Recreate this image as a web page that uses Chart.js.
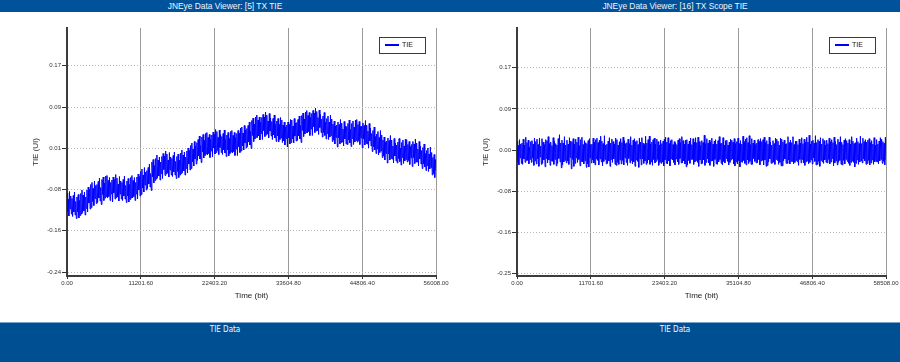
<!DOCTYPE html>
<html>
<head>
<meta charset="utf-8">
<script src="https://cdn.jsdelivr.net/npm/chart.js"></script>
<style>
html,body{margin:0;padding:0;background:#fff;width:900px;height:362px;overflow:hidden;font-family:"Liberation Sans",Arial,sans-serif}
.bar{position:absolute;left:0;width:900px;background:#00529b}
#top{top:0;height:12px}
#bottom{top:322px;height:40px;background:#004f93;border-top:1px solid #7ea3cb;box-sizing:border-box}
.t{position:absolute;width:450px;text-align:center;color:#f2f6fa;white-space:nowrap}
#top .t{font-size:8.4px;line-height:12px;top:0}
#bottom .t{font-family:"Liberation Sans Narrow","DejaVu Sans Condensed",sans-serif;font-size:8px;top:2px;line-height:10px}
canvas{position:absolute;top:12px}
</style>
</head>
<body>
<div id="top" class="bar">
  <div class="t" style="left:0">JNEye Data Viewer: [5] TX TIE</div>
  <div class="t" style="left:450px">JNEye Data Viewer: [16] TX Scope TIE</div>
</div>
<canvas id="c1" width="450" height="310" style="left:0"></canvas>
<canvas id="c2" width="450" height="310" style="left:450px"></canvas>
<div id="bottom" class="bar">
  <div class="t" style="left:0">TIE Data</div>
  <div class="t" style="left:450px">TIE Data</div>
</div>
<script>
// ---------- data ----------
const seriesLabel = 'TIE';
const xAxisTitle = 'Time (bit)';
const yAxisTitle = 'TIE (UI)';

const leftTotalBits = 56008;
const leftXTickValues = [0, 11201.6, 22403.2, 33604.8, 44806.4, 56008];
const leftXTickLabels = ['0.00', '11201.60', '22403.20', '33604.80', '44806.40', '56008.00'];
const leftYRange = [-0.248, 0.248];
const leftYTickValues = [-0.24, -0.1575, -0.075, 0.0075, 0.09, 0.1725];
const leftYTickLabels = ['-0.24', '-0.16', '-0.08', '0.01', '0.09', '0.17'];

const rightTotalBits = 58508;
const rightXTickValues = [0, 11701.6, 23403.2, 35104.8, 46806.4, 58508];
const rightXTickLabels = ['0.00', '11701.60', '23403.20', '35104.80', '46806.40', '58508.00'];
const rightYRange = [-0.255, 0.247];
const rightYTickValues = [-0.25, -0.1667, -0.0833, 0, 0.0833, 0.1667];
const rightYTickLabels = ['-0.25', '-0.16', '-0.08', '0.00', '0.09', '0.17'];

const leftTieValues = [
-0.082,-0.120,-0.094,-0.128,-0.079,-0.114,-0.088,-0.124,
-0.093,-0.129,-0.087,-0.120,-0.080,-0.126,-0.099,-0.133,
-0.090,-0.120,-0.085,-0.132,-0.097,-0.127,-0.083,-0.124,
-0.076,-0.121,-0.086,-0.118,-0.080,-0.126,-0.090,-0.113,
-0.076,-0.120,-0.070,-0.102,-0.075,-0.114,-0.065,-0.111,
-0.061,-0.099,-0.073,-0.107,-0.058,-0.093,-0.067,-0.103,
-0.065,-0.101,-0.059,-0.092,-0.052,-0.098,-0.071,-0.105,
-0.055,-0.085,-0.050,-0.097,-0.062,-0.092,-0.048,-0.089,
-0.047,-0.092,-0.057,-0.089,-0.051,-0.097,-0.061,-0.084,
-0.056,-0.100,-0.050,-0.082,-0.055,-0.094,-0.045,-0.091,
-0.052,-0.090,-0.064,-0.098,-0.049,-0.084,-0.058,-0.094,
-0.061,-0.097,-0.055,-0.088,-0.048,-0.094,-0.067,-0.101,
-0.058,-0.088,-0.053,-0.100,-0.065,-0.095,-0.051,-0.092,
-0.047,-0.092,-0.057,-0.089,-0.051,-0.097,-0.061,-0.084,
-0.050,-0.094,-0.044,-0.076,-0.049,-0.088,-0.039,-0.085,
-0.034,-0.072,-0.046,-0.080,-0.031,-0.066,-0.040,-0.076,
-0.037,-0.073,-0.031,-0.064,-0.024,-0.070,-0.043,-0.077,
-0.020,-0.050,-0.015,-0.062,-0.027,-0.057,-0.013,-0.054,
-0.006,-0.051,-0.016,-0.048,-0.010,-0.056,-0.020,-0.043,
-0.009,-0.053,-0.003,-0.035,-0.008,-0.047,0.002,-0.044,
-0.004,-0.042,-0.016,-0.050,-0.001,-0.036,-0.010,-0.046,
-0.013,-0.049,-0.007,-0.040,0.000,-0.046,-0.019,-0.053,
-0.009,-0.039,-0.004,-0.051,-0.016,-0.046,-0.002,-0.043,
0.004,-0.041,-0.006,-0.038,0.000,-0.046,-0.010,-0.033,
0.002,-0.042,0.008,-0.024,0.003,-0.036,0.013,-0.033,
0.018,-0.020,0.006,-0.028,0.021,-0.014,0.012,-0.024,
0.019,-0.017,0.025,-0.008,0.032,-0.014,0.013,-0.021,
0.030,0.000,0.035,-0.012,0.023,-0.007,0.037,-0.004,
0.039,-0.006,0.029,-0.003,0.035,-0.011,0.025,0.002,
0.034,-0.010,0.040,0.008,0.035,-0.004,0.045,-0.001,
0.041,0.003,0.029,-0.005,0.044,0.009,0.035,-0.001,
0.031,-0.005,0.037,0.004,0.044,-0.002,0.025,-0.009,
0.034,0.004,0.039,-0.008,0.027,-0.003,0.041,0.000,
0.043,-0.002,0.033,0.001,0.039,-0.007,0.029,0.006,
0.037,-0.007,0.043,0.011,0.038,-0.001,0.048,0.002,
0.050,0.012,0.038,0.004,0.053,0.018,0.044,0.008,
0.047,0.011,0.053,0.020,0.060,0.014,0.041,0.007,
0.063,0.033,0.068,0.021,0.056,0.026,0.070,0.029,
0.074,0.029,0.064,0.032,0.070,0.024,0.060,0.037,
0.069,0.025,0.075,0.043,0.070,0.031,0.080,0.034,
0.074,0.036,0.062,0.028,0.077,0.042,0.068,0.032,
0.061,0.025,0.067,0.034,0.074,0.028,0.055,0.021,
0.062,0.032,0.067,0.020,0.055,0.025,0.069,0.028,
0.064,0.019,0.054,0.022,0.060,0.014,0.050,0.027,
0.054,0.010,0.060,0.028,0.055,0.016,0.065,0.019,
0.064,0.026,0.052,0.018,0.067,0.032,0.058,0.022,
0.059,0.023,0.065,0.032,0.072,0.026,0.053,0.019,
0.073,0.043,0.078,0.031,0.066,0.036,0.080,0.039,
0.083,0.038,0.073,0.041,0.079,0.033,0.069,0.046,
0.077,0.033,0.083,0.051,0.078,0.039,0.088,0.042,
0.081,0.043,0.069,0.035,0.084,0.049,0.075,0.039,
0.066,0.030,0.072,0.039,0.079,0.033,0.060,0.026,
0.067,0.037,0.072,0.025,0.060,0.030,0.074,0.033,
0.066,0.021,0.056,0.024,0.062,0.016,0.052,0.029,
0.054,0.010,0.060,0.028,0.055,0.016,0.065,0.019,
0.058,0.020,0.046,0.012,0.061,0.026,0.052,0.016,
0.051,0.015,0.057,0.024,0.064,0.018,0.045,0.011,
0.057,0.027,0.062,0.015,0.050,0.020,0.064,0.023,
0.065,0.020,0.055,0.023,0.061,0.015,0.051,0.028,
0.052,0.008,0.058,0.026,0.053,0.014,0.063,0.017,
0.054,0.016,0.042,0.008,0.057,0.022,0.048,0.012,
0.037,0.001,0.043,0.010,0.050,0.004,0.031,-0.003,
0.036,0.006,0.041,-0.006,0.029,-0.001,0.043,0.002,
0.034,-0.011,0.024,-0.008,0.030,-0.016,0.020,-0.003,
0.022,-0.022,0.028,-0.004,0.023,-0.016,0.033,-0.013,
0.024,-0.014,0.012,-0.022,0.027,-0.008,0.018,-0.018,
0.014,-0.022,0.020,-0.013,0.027,-0.019,0.008,-0.026,
0.019,-0.011,0.024,-0.023,0.012,-0.018,0.026,-0.015,
0.025,-0.020,0.015,-0.017,0.021,-0.025,0.011,-0.012,
0.015,-0.029,0.021,-0.011,0.016,-0.023,0.026,-0.020,
0.018,-0.020,0.006,-0.028,0.021,-0.014,0.012,-0.024,
0.003,-0.033,0.009,-0.024,0.016,-0.030,-0.003,-0.037,
0.003,-0.027,0.008,-0.039,-0.004,-0.034,0.010,-0.031,
-0.001,-0.046,-0.011,-0.043,-0.005,-0.051,-0.015,-0.038
];

const rightTieValues = [
0.018,-0.024,0.009,-0.030,0.021,-0.016,0.012,-0.027,
0.014,-0.029,0.022,-0.018,0.010,-0.025,0.026,-0.021,
0.015,-0.021,0.020,-0.028,0.006,-0.019,0.017,-0.025,
0.019,-0.016,0.012,-0.031,0.024,-0.022,0.017,-0.028,
0.022,-0.018,0.011,-0.033,0.024,-0.014,0.008,-0.029,
0.023,-0.027,0.016,-0.020,0.011,-0.034,0.021,-0.017,
0.019,-0.026,0.027,-0.020,0.013,-0.031,0.016,-0.022,
0.009,-0.023,0.025,-0.029,0.018,-0.019,0.013,-0.032,
0.010,-0.027,0.023,-0.017,0.031,-0.024,0.014,-0.036,
0.020,-0.030,0.014,-0.024,0.027,-0.021,0.010,-0.026,
0.020,-0.022,0.012,-0.029,0.025,-0.015,0.018,-0.038,
0.017,-0.019,0.023,-0.033,0.012,-0.027,0.022,-0.016,
0.016,-0.025,0.026,-0.019,0.009,-0.032,0.021,-0.023,
0.026,-0.024,0.011,-0.028,0.019,-0.022,0.015,-0.035,
0.013,-0.028,0.019,-0.034,0.023,-0.016,0.011,-0.026,
0.012,-0.020,0.024,-0.026,0.016,-0.030,0.021,-0.018,
0.024,-0.021,0.015,-0.030,0.020,-0.018,0.028,-0.024,
0.018,-0.032,0.013,-0.023,0.029,-0.019,0.010,-0.028,
0.012,-0.027,0.018,-0.022,0.025,-0.033,0.014,-0.019,
0.022,-0.025,0.017,-0.018,0.012,-0.029,0.024,-0.031,
0.021,-0.025,0.010,-0.029,0.017,-0.020,0.023,-0.028,
0.015,-0.021,0.026,-0.030,0.019,-0.016,0.013,-0.025,
0.015,-0.031,0.022,-0.017,0.013,-0.026,0.027,-0.021,
0.010,-0.028,0.020,-0.024,0.023,-0.033,0.017,-0.020,
0.019,-0.023,0.011,-0.035,0.024,-0.018,0.016,-0.030,
0.025,-0.018,0.014,-0.027,0.011,-0.022,0.028,-0.029,
0.014,-0.026,0.021,-0.020,0.028,-0.029,0.012,-0.024,
0.016,-0.031,0.021,-0.019,0.024,-0.026,0.012,-0.023,
0.022,-0.019,0.017,-0.031,0.010,-0.025,0.020,-0.027,
0.013,-0.024,0.018,-0.032,0.022,-0.020,0.026,-0.027,
0.016,-0.028,0.025,-0.022,0.013,-0.032,0.019,-0.018,
0.021,-0.020,0.011,-0.025,0.017,-0.030,0.014,-0.018,
0.011,-0.024,0.020,-0.029,0.023,-0.017,0.015,-0.026,
0.027,-0.026,0.019,-0.022,0.012,-0.028,0.020,-0.034,
0.021,-0.030,0.012,-0.021,0.018,-0.027,0.024,-0.019,
0.011,-0.019,0.023,-0.029,0.016,-0.024,0.025,-0.021,
0.015,-0.025,0.026,-0.033,0.017,-0.020,0.009,-0.028,
0.019,-0.027,0.015,-0.020,0.030,-0.031,0.013,-0.025,
0.023,-0.018,0.014,-0.026,0.020,-0.031,0.016,-0.022,
0.024,-0.022,0.012,-0.033,0.018,-0.019,0.021,-0.028,
0.012,-0.029,0.019,-0.024,0.027,-0.019,0.013,-0.027,
0.014,-0.030,0.025,-0.023,0.010,-0.026,0.019,-0.017,
0.020,-0.023,0.010,-0.030,0.016,-0.025,0.022,-0.020,
0.020,-0.018,0.016,-0.028,0.023,-0.032,0.013,-0.024,
0.017,-0.028,0.024,-0.021,0.013,-0.034,0.019,-0.024,
0.012,-0.025,0.028,-0.021,0.017,-0.027,0.022,-0.030,
0.025,-0.020,0.015,-0.027,0.029,-0.023,0.011,-0.029,
0.023,-0.029,0.014,-0.017,0.020,-0.023,0.011,-0.026,
0.014,-0.026,0.021,-0.019,0.017,-0.030,0.023,-0.022,
0.017,-0.021,0.021,-0.030,0.026,-0.020,0.015,-0.033,
0.019,-0.031,0.012,-0.024,0.026,-0.018,0.016,-0.027,
0.010,-0.026,0.019,-0.024,0.013,-0.029,0.024,-0.019,
0.022,-0.021,0.018,-0.029,0.010,-0.025,0.024,-0.032,
0.022,-0.032,0.016,-0.022,0.020,-0.018,0.012,-0.027,
0.013,-0.027,0.027,-0.020,0.015,-0.028,0.020,-0.023,
0.015,-0.023,0.027,-0.028,0.011,-0.025,0.018,-0.021,
0.018,-0.024,0.011,-0.031,0.022,-0.019,0.014,-0.026,
0.025,-0.019,0.013,-0.026,0.022,-0.031,0.016,-0.024,
0.026,-0.022,0.016,-0.028,0.030,-0.025,0.012,-0.020,
0.018,-0.028,0.020,-0.016,0.014,-0.023,0.029,-0.030,
0.015,-0.029,0.021,-0.023,0.018,-0.033,0.025,-0.021,
0.012,-0.024,0.023,-0.027,0.019,-0.020,0.010,-0.025,
0.020,-0.026,0.013,-0.019,0.024,-0.028,0.017,-0.024,
0.021,-0.017,0.015,-0.032,0.026,-0.026,0.017,-0.022,
0.011,-0.030,0.022,-0.025,0.016,-0.021,0.027,-0.029,
0.016,-0.030,0.011,-0.021,0.020,-0.028,0.023,-0.019,
0.019,-0.023,0.014,-0.027,0.021,-0.031,0.012,-0.025,
0.027,-0.022,0.018,-0.025,0.013,-0.034,0.015,-0.027,
0.024,-0.020,0.017,-0.029,0.013,-0.024,0.028,-0.022,
0.013,-0.026,0.024,-0.018,0.017,-0.022,0.021,-0.029,
0.016,-0.027,0.020,-0.021,0.023,-0.030,0.015,-0.026,
0.019,-0.020,0.012,-0.029,0.025,-0.024,0.010,-0.023,
0.021,-0.024,0.012,-0.028,0.018,-0.022,0.025,-0.019,
0.022,-0.027,0.017,-0.023,0.014,-0.030,0.026,-0.020
];

// ---------- chart ----------
const FONT = '"Liberation Sans", Arial, sans-serif';

const legendBox = {
  id: 'legendBox',
  afterDatasetsDraw(chart) {
    const { ctx, chartArea: a } = chart;
    const ds = chart.data.datasets[0];
    const w = 47, h = 17;
    const x = Math.round(a.right - 10 - w), y = Math.round(a.top + 9);
    ctx.save();
    ctx.fillStyle = '#fff';
    ctx.fillRect(x, y, w, h);
    ctx.strokeStyle = '#3a3a3a';
    ctx.lineWidth = 1;
    ctx.strokeRect(x + 0.5, y + 0.5, w - 1, h - 1);
    ctx.strokeStyle = ds.borderColor;
    ctx.lineWidth = 2;
    ctx.beginPath();
    ctx.moveTo(x + 6, y + 8);
    ctx.lineTo(x + 20, y + 8);
    ctx.stroke();
    ctx.fillStyle = '#111';
    ctx.font = '7px ' + FONT;
    ctx.textBaseline = 'middle';
    ctx.fillText(ds.label, x + 23, y + 8.5);
    ctx.restore();
  }
};

function makeChart(id, values, totalBits, xTicks, xLabels, yRange, yTicks, yLabels) {
  const pts = values.map((v, i) => ({ x: i * totalBits / (values.length - 1), y: v }));
  return new Chart(document.getElementById(id), {
    type: 'line',
    data: {
      datasets: [{
        label: seriesLabel,
        data: pts,
        borderColor: '#0000ff',
        borderWidth: 1,
        pointRadius: 0,
        tension: 0,
        fill: false
      }]
    },
    options: {
      responsive: false,
      animation: false,
      events: [],
      layout: { padding: { left: 0, right: 14, top: 16, bottom: 0 } },
      plugins: { legend: { display: false }, tooltip: { enabled: false }, title: { display: false } },
      scales: {
        x: {
          type: 'linear',
          min: 0,
          max: totalBits,
          afterBuildTicks(s) { s.ticks = xTicks.map(v => ({ value: v })); },
          afterFit(s) { s.height = 46; s.paddingLeft = 0; s.paddingRight = 0; },
          ticks: {
            autoSkip: false, maxRotation: 0, minRotation: 0, padding: 1,
            font: { size: 6, family: FONT }, color: '#333',
            callback: (v, i) => xLabels[i]
          },
          grid: { color: '#9a9a9a', lineWidth: 1, tickLength: 3, tickColor: '#333', tickWidth: 1 },
          border: { display: true, color: '#3c3c3c', width: 2 },
          title: { display: true, text: xAxisTitle, font: { size: 8, family: FONT }, color: '#222', padding: { top: 0, bottom: 21 } }
        },
        y: {
          type: 'linear',
          min: yRange[0],
          max: yRange[1],
          afterBuildTicks(s) { s.ticks = yTicks.map(v => ({ value: v })); },
          afterFit(s) { s.width = 67; s.paddingTop = 0; s.paddingBottom = 0; },
          ticks: {
            autoSkip: false, padding: 1,
            font: { size: 6, family: FONT }, color: '#333',
            callback: (v, i) => yLabels[i]
          },
          grid: { color: '#b8b8b8', lineWidth: 1, tickLength: 5, tickColor: '#333', tickWidth: 1 },
          border: { display: true, color: '#3c3c3c', width: 2, dash: [1, 2] },
          title: { display: true, text: yAxisTitle, font: { size: 8, family: FONT }, color: '#222', padding: { top: 31, bottom: 0 } }
        }
      }
    },
    plugins: [legendBox]
  });
}

makeChart('c1', leftTieValues, leftTotalBits, leftXTickValues, leftXTickLabels, leftYRange, leftYTickValues, leftYTickLabels);
makeChart('c2', rightTieValues, rightTotalBits, rightXTickValues, rightXTickLabels, rightYRange, rightYTickValues, rightYTickLabels);
</script>
</body>
</html>
